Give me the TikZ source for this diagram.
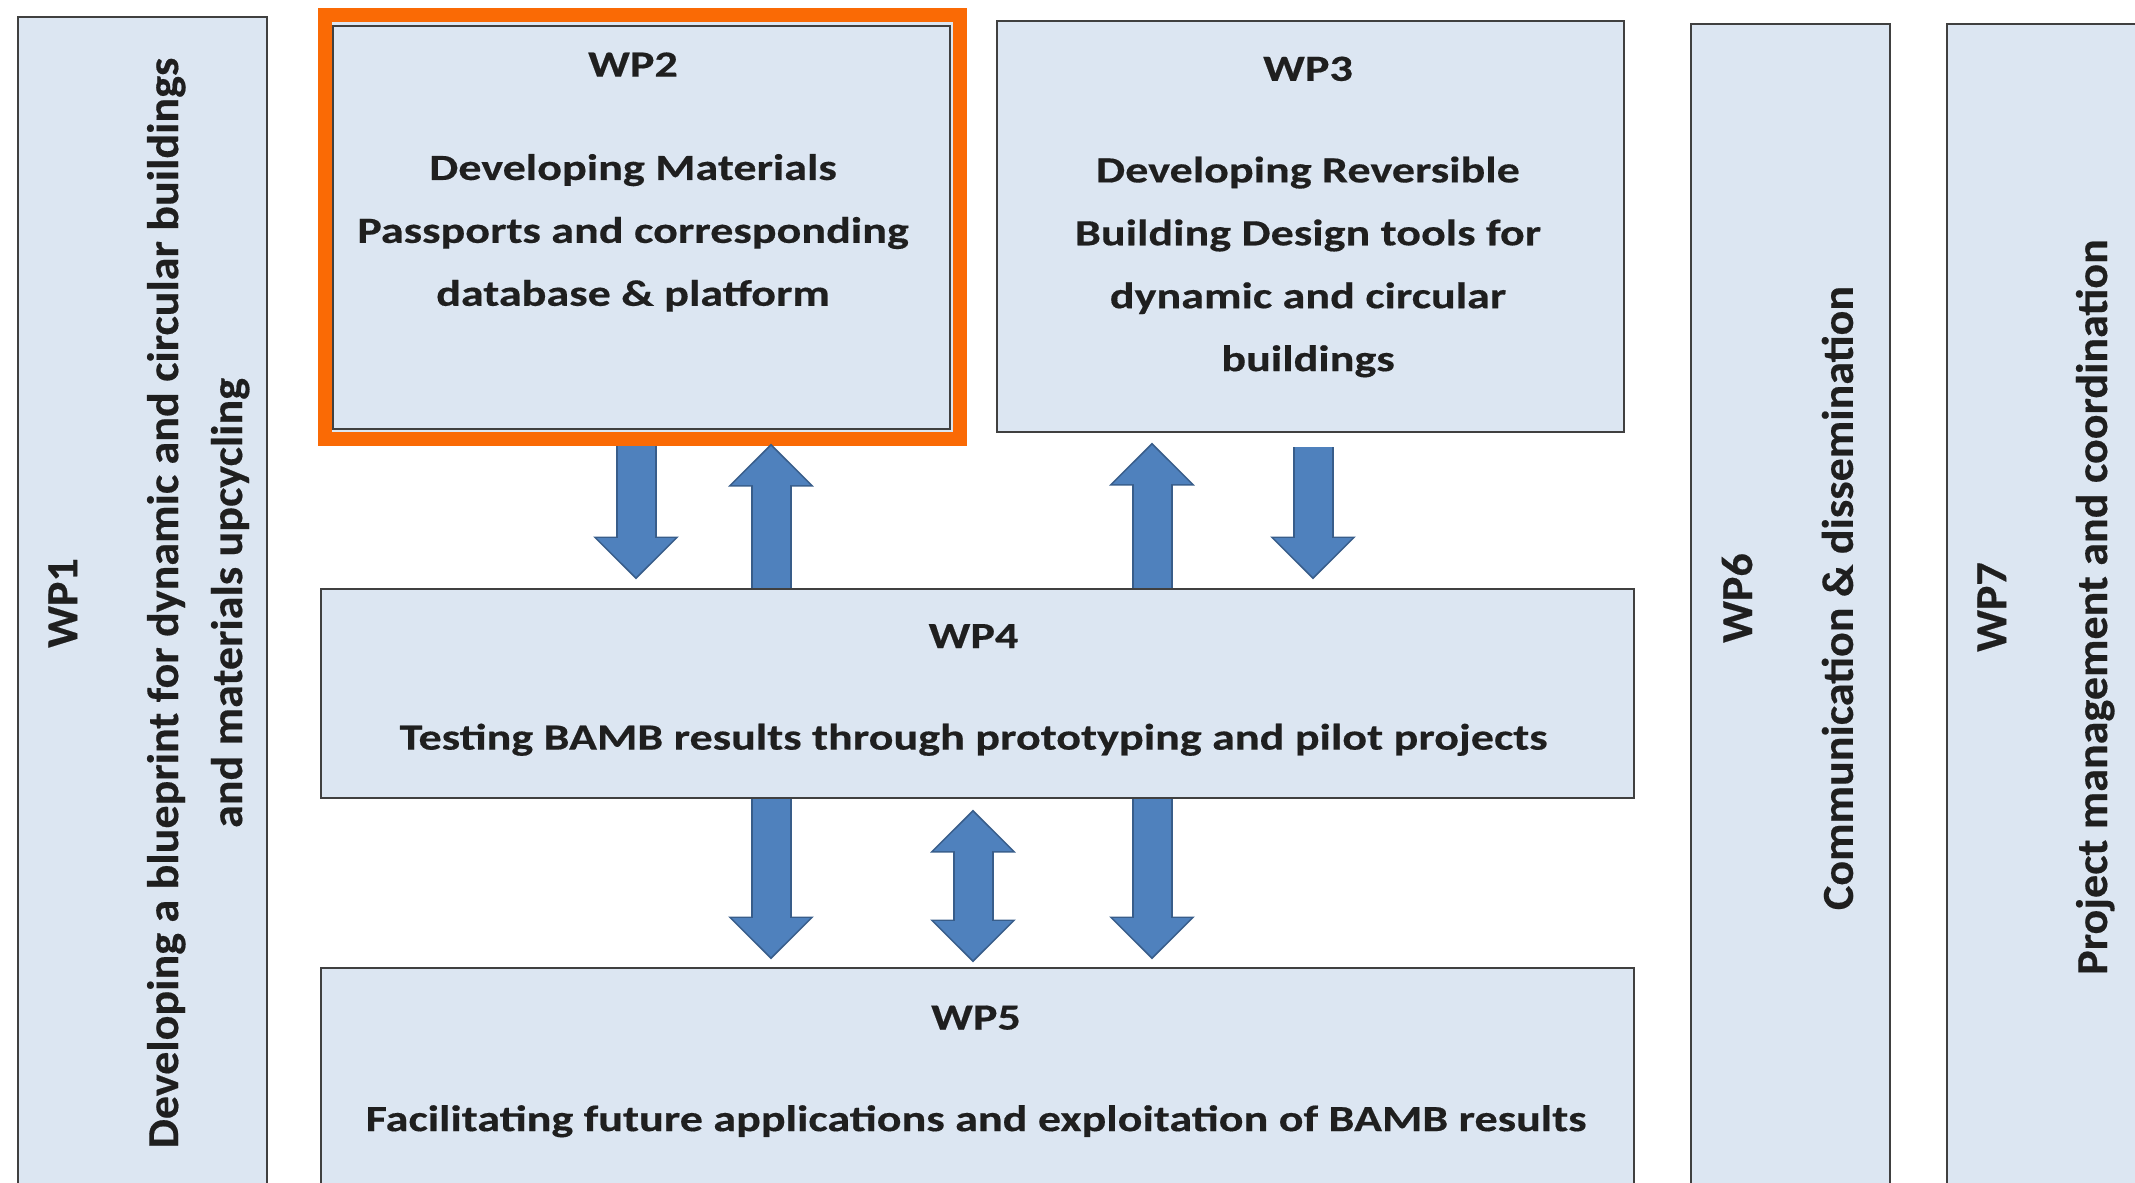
\documentclass[tikz,border=0pt]{standalone}
\usepackage{fontspec}
\setmainfont{Carlito}
\newfontfamily\wpwide{Carlito}[FakeStretch=1.25, FakeBold=0.4]
\newfontfamily\wpup{Carlito}[FakeStretch=1.04, FakeBold=0.4]
\usepackage{xcolor}
\usepackage{tikz}
\usetikzlibrary{positioning}
\usetikzlibrary{calc}
\usetikzlibrary{arrows.meta, shadows}
\definecolor{wpfill}{RGB}{220,230,242}
\definecolor{wpline}{RGB}{64,64,64}
\definecolor{wporange}{RGB}{250,106,5}
\definecolor{arrowblue}{RGB}{79,129,189}
\definecolor{arrowline}{RGB}{56,93,138}
\tikzstyle{wp} = [rectangle, draw=wpline, fill=wpfill, line width=0.025cm, inner sep=0pt]
\tikzstyle{htext} = [align=center, text=black!88, font=\wpwide\bfseries\fontsize{10.5}{17.9}\selectfont]
\tikzstyle{vtext} = [align=center, rotate=90, text=black!88, font=\wpup\bfseries\fontsize{12.6}{18.2}\selectfont]
\tikzstyle{bigarrow} = [line width=0.37cm, arrowblue, -{Triangle[width=0.76cm,length=0.39cm]},
  preaction={draw=arrowline, line width=0.41cm, shorten >=-0.025cm, -{Triangle[width=0.83cm,length=0.43cm]}}]
\tikzstyle{bigdouble} = [line width=0.37cm, arrowblue, {Triangle[width=0.76cm,length=0.39cm]}-{Triangle[width=0.76cm,length=0.39cm]},
  preaction={draw=arrowline, line width=0.41cm, shorten >=-0.025cm, shorten <=-0.025cm, {Triangle[width=0.83cm,length=0.43cm]}-{Triangle[width=0.83cm,length=0.43cm]}}]

\begin{document}
\begin{tikzpicture}
\useasboundingbox (0,0) rectangle (21.35,-11.83);
% boxes
\node[wp, minimum width=2.49cm, minimum height=11.9cm] (wp1) at (1.425,-6.12) {};
\node[draw=wporange, fill=wpfill, line width=0.14cm, minimum width=6.35cm, minimum height=4.24cm,
  drop shadow={shadow xshift=0.04cm, shadow yshift=-0.05cm, opacity=0.3}] (wp2o) at (6.425,-2.27) {};
\node[wp, minimum width=6.17cm, minimum height=4.03cm] (wp2) at (6.415,-2.275) {};
\node[wp, minimum width=6.27cm, minimum height=4.11cm] (wp3) at (13.105,-2.265) {};
\node[wp, minimum width=13.13cm, minimum height=2.09cm] (wp4) at (9.775,-6.935) {};
\node[wp, minimum width=13.13cm, minimum height=2.42cm] (wp5) at (9.775,-10.89) {};
\node[wp, minimum width=1.99cm, minimum height=11.86cm] (wp6) at (17.905,-6.17) {};
\node[wp, minimum width=2.13cm, minimum height=11.86cm] (wp7) at (20.535,-6.17) {};

\node[htext] (wp2t) at (6.33,-1.82) {WP2\\[11.5pt]Developing Materials\\Passports and corresponding\\database \& platform};
\node[htext] (wp3t) at (13.08,-2.17) {WP3\\[11pt]Developing Reversible\\Building Design tools for\\dynamic and circular\\buildings};
\node[htext] (wp4t) at (9.735,-6.90) {WP4\\[11pt]Testing BAMB results through prototyping and pilot projects};
\node[htext] (wp5t) at (9.76,-10.715) {WP5\\[11pt]Facilitating future applications and exploitation of BAMB results};
\node[vtext] (wp1t) at (1.49,-6.03) {WP1\\[10.5pt]Developing a blueprint for dynamic and circular buildings\\and materials upcycling};
\node[vtext] (wp6t) at (17.875,-5.98) {WP6\\[10.5pt]Communication \& dissemination};
\node[vtext] (wp7t) at (20.46,-6.07) {WP7\\[10.5pt]Project management and coordination};

% arrows
\coordinate (t1) at (6.36,-5.77);
\coordinate (t2) at (7.71,-4.46);
\coordinate (t3) at (11.52,-4.45);
\coordinate (s4) at (13.13,-4.47);
\coordinate (t4) at (13.13,-5.77);
\coordinate (t5) at (7.71,-9.57);
\coordinate (s6) at (9.73,-8.12);
\coordinate (t6) at (9.73,-9.60);
\coordinate (t7) at (11.52,-9.57);
\draw[bigarrow] (wp2o.south -| t1) -- (t1);
\draw[bigarrow] (wp4.north -| t2) -- (wp2o.south -| t2);
\draw[bigarrow] (wp4.north -| t3) -- (t3);
\draw[bigarrow] (s4) -- (t4);
\draw[bigarrow] (wp4.south -| t5) -- (t5);
\draw[bigdouble] (s6) -- (t6);
\draw[bigarrow] (wp4.south -| t7) -- (t7);
\end{tikzpicture}
\end{document}
